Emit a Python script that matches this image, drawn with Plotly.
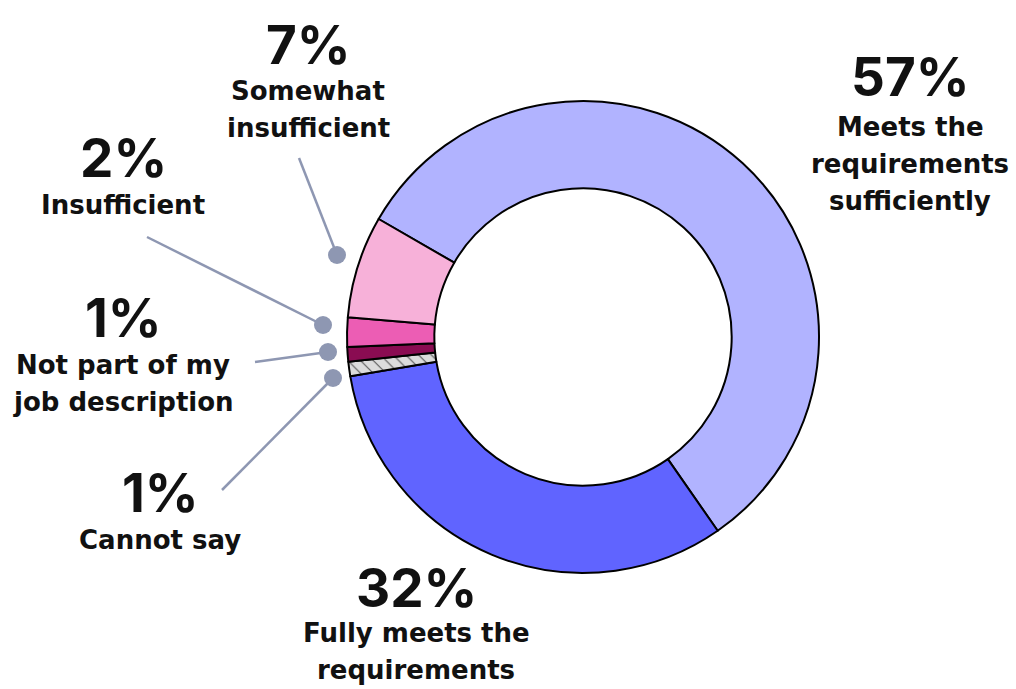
import plotly.graph_objects as go

# Survey answer shares (percent), in clockwise order starting at ~10 o'clock
categories = [
    "Meets the requirements sufficiently",
    "Fully meets the requirements",
    "Cannot say",
    "Not part of my job description",
    "Insufficient",
    "Somewhat insufficient",
]
shares = [57, 32, 1, 1, 2, 7]
pct_labels = ["57%", "32%", "1%", "1%", "2%", "7%"]
sub_labels = [
    ["Meets the", "requirements", "sufficiently"],
    ["Fully meets the", "requirements"],
    ["Cannot say"],
    ["Not part of my", "job description"],
    ["Insufficient"],
    ["Somewhat", "insufficient"],
]

colors = ["#b1b3ff", "#6064ff", "#dcdcdc", "#8a0c52", "#ec5db4", "#f7b1d9"]
patterns = ["", "", "\\", "", "", ""]

W, H = 1016, 689


def px(x):
    return x / W


def py(y):
    return 1 - y / H


cx, cy, r = 583, 337, 236

fig = go.Figure(
    go.Pie(
        labels=categories,
        values=shares,
        sort=False,
        direction="clockwise",
        rotation=300,
        hole=0.63,
        textinfo="none",
        hoverinfo="label+percent",
        marker=dict(
            colors=colors,
            line=dict(color="#000000", width=2),
            pattern=dict(
                shape=patterns,
                fgcolor="#555555",
                bgcolor=colors,
                size=9,
                solidity=0.12,
            ),
        ),
        domain=dict(x=[px(cx - r), px(cx + r)], y=[py(cy + r), py(cy - r)]),
        showlegend=False,
    )
)

# Label block positions: (centre x, y of percentage, y of first sub line)
label_pos = {
    0: (910, 77, 127),
    1: (416, 588, 633),
    2: (160, 493, 540),
    3: (123, 318, 365),
    4: (123, 158, 205),
    5: (308, 45, 91),
}
line_gap = 37
pct_font = "Inter, Roboto, Arial, sans-serif"
sub_font = "DejaVu Sans, Verdana, sans-serif"

annotations = []
for i, (x, y_pct, y_sub) in label_pos.items():
    annotations.append(dict(
        x=px(x), y=py(y_pct), xref="paper", yref="paper",
        text=f"<b>{pct_labels[i]}</b>", showarrow=False,
        xanchor="center", yanchor="middle",
        font=dict(size=53, color="#111111", family=pct_font),
    ))
    for k, line in enumerate(sub_labels[i]):
        annotations.append(dict(
            x=px(x), y=py(y_sub + k * line_gap), xref="paper", yref="paper",
            text=f"<b>{line}</b>", showarrow=False,
            xanchor="center", yanchor="middle",
            font=dict(size=26, color="#111111", family=sub_font),
        ))

# Leader lines for the small slices: (start x, start y, dot x, dot y)
leaders = [
    (299, 158, 337, 255),
    (147, 237, 323, 325),
    (255, 362, 328, 352),
    (222, 490, 333, 378),
]
lead_color = "#8e97b2"
shapes = []
for x0, y0, x1, y1 in leaders:
    shapes.append(dict(
        type="line", xref="paper", yref="paper",
        x0=px(x0), y0=py(y0), x1=px(x1), y1=py(y1),
        line=dict(color=lead_color, width=2.5),
    ))
    d = 9
    shapes.append(dict(
        type="circle", xref="paper", yref="paper",
        x0=px(x1 - d), x1=px(x1 + d), y0=py(y1 + d), y1=py(y1 - d),
        fillcolor=lead_color, line=dict(width=0),
    ))

fig.update_layout(
    width=W, height=H,
    margin=dict(l=0, r=0, t=0, b=0),
    paper_bgcolor="white",
    plot_bgcolor="white",
    annotations=annotations,
    shapes=shapes,
)

fig.write_html("out.html")
